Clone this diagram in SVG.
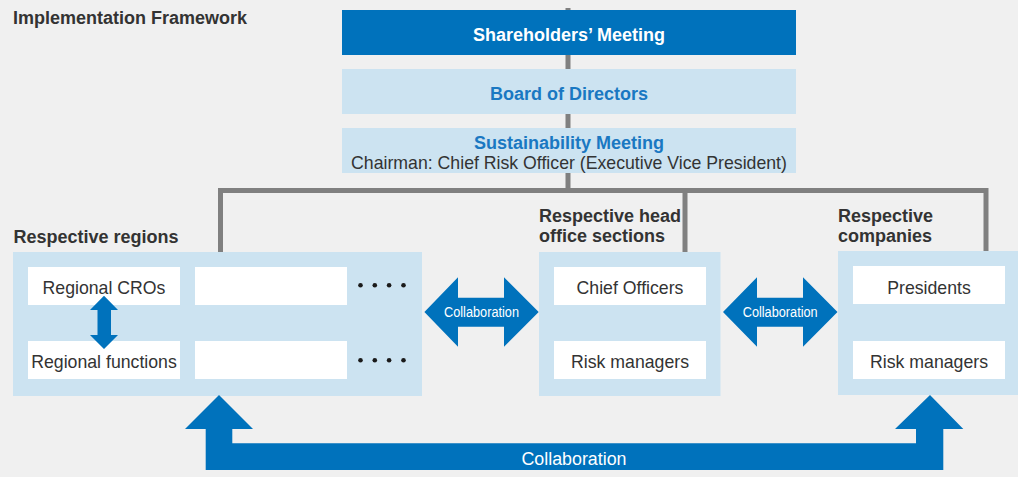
<svg xmlns="http://www.w3.org/2000/svg" width="1018" height="477" viewBox="0 0 1018 477">
<style>
.t{font-family:"Liberation Sans",Arial,sans-serif}
.b{font-weight:bold;font-size:18px}
.dk{fill:#333333}
.bl{fill:#1a78c2}
.w{fill:#ffffff}
.lb{fill:#cce3f1}
.wb{fill:#ffffff}
.fb{fill:#0072bc}
.reg{font-size:17.7px}
.ln{fill:none;stroke:#808080;stroke-width:5}
</style>
<rect width="1018" height="477" fill="#f0f0f0"/>
<text class="t b dk" x="13" y="24">Implementation Framework</text>
<g id="connectors">
<path class="ln" d="M568,8 V190.5"/>
<path class="ln" d="M220.5,252 V190.5 H986 V251"/>
<path class="ln" d="M685,190.5 V252"/>
</g>
<g id="shareholders">
<rect class="fb" x="342" y="10" width="454" height="45"/>
<text class="t b w" x="569" y="41" text-anchor="middle">Shareholders’ Meeting</text>
</g>
<g id="board">
<rect class="lb" x="342" y="69" width="454" height="45"/>
<text class="t b bl" x="569" y="100" text-anchor="middle">Board of Directors</text>
</g>
<g id="sustainability">
<rect class="lb" x="342" y="128" width="454" height="45"/>
<text class="t b bl" x="569" y="149" text-anchor="middle">Sustainability Meeting</text>
<text class="t dk" x="569" y="168.5" text-anchor="middle" font-size="17.7">Chairman: Chief Risk Officer (Executive Vice President)</text>
</g>
<g id="regions">
<text class="t b dk" x="13.5" y="243.3">Respective regions</text>
<rect class="lb" x="13" y="252" width="409" height="144"/>
<rect class="wb" x="28" y="267" width="152" height="38"/>
<rect class="wb" x="195" y="267" width="152" height="38"/>
<rect class="wb" x="28" y="341" width="152" height="38"/>
<rect class="wb" x="195" y="341" width="152" height="38"/>
<text class="t reg dk" x="104" y="294" text-anchor="middle">Regional CROs</text>
<text class="t reg dk" x="104" y="368.3" text-anchor="middle">Regional functions</text>
<g fill="#1a1a1a">
<circle cx="360.5" cy="285.3" r="2.3"/><circle cx="374.8" cy="285.3" r="2.3"/><circle cx="389.1" cy="285.3" r="2.3"/><circle cx="403.5" cy="285.3" r="2.3"/>
<circle cx="360.5" cy="360.3" r="2.3"/><circle cx="374.8" cy="360.3" r="2.3"/><circle cx="389.1" cy="360.3" r="2.3"/><circle cx="403.5" cy="360.3" r="2.3"/>
</g>
<polygon class="fb" points="104,295.7 118,310 111,310 111,335 118,335 104,349 90,335 97.5,335 97.5,310 90,310"/>
</g>
<g id="head-office">
<text class="t b dk" x="539" y="221.7" font-size="17.6">Respective head</text>
<text class="t b dk" x="539" y="242.3" font-size="17.6">office sections</text>
<rect class="lb" x="539" y="252" width="181.5" height="144"/>
<rect class="wb" x="554" y="267" width="152" height="38"/>
<rect class="wb" x="554" y="341" width="152" height="38"/>
<text class="t reg dk" x="630" y="294" text-anchor="middle">Chief Officers</text>
<text class="t reg dk" x="630" y="368.3" text-anchor="middle">Risk managers</text>
</g>
<g id="companies">
<text class="t b dk" x="838" y="221.7" font-size="17.6">Respective</text>
<text class="t b dk" x="838" y="242.3" font-size="17.6">companies</text>
<rect class="lb" x="838" y="251" width="180" height="144"/>
<rect class="wb" x="853" y="266" width="152" height="38"/>
<rect class="wb" x="853" y="341" width="152" height="38"/>
<text class="t reg dk" x="929" y="293.5" text-anchor="middle">Presidents</text>
<text class="t reg dk" x="929" y="368.3" text-anchor="middle">Risk managers</text>
</g>
<g id="collab-arrows">
<polygon class="fb" points="424.4,312 458,277.3 458,297.7 504,297.7 504,277.3 538.7,312 504,346.7 504,326.7 458,326.7 458,346.7"/>
<text class="t w" x="481.5" y="316.7" text-anchor="middle" font-size="14" textLength="75" lengthAdjust="spacingAndGlyphs">Collaboration</text>
<polygon class="fb" points="723,312 757,277.3 757,297.7 803,297.7 803,277.3 837.5,312 803,346.7 803,326.7 757,326.7 757,346.7"/>
<text class="t w" x="780.2" y="316.7" text-anchor="middle" font-size="14" textLength="75" lengthAdjust="spacingAndGlyphs">Collaboration</text>
<polygon class="fb" points="219,395 253,429 232.3,429 232.3,443.3 916,443.3 916,429 895,429 930,395 963.3,429 943.3,429 943.3,470 205.7,470 205.7,429 185,429"/>
<text class="t w" x="574" y="465" text-anchor="middle" font-size="18" textLength="105" lengthAdjust="spacingAndGlyphs">Collaboration</text>
</g>
</svg>
